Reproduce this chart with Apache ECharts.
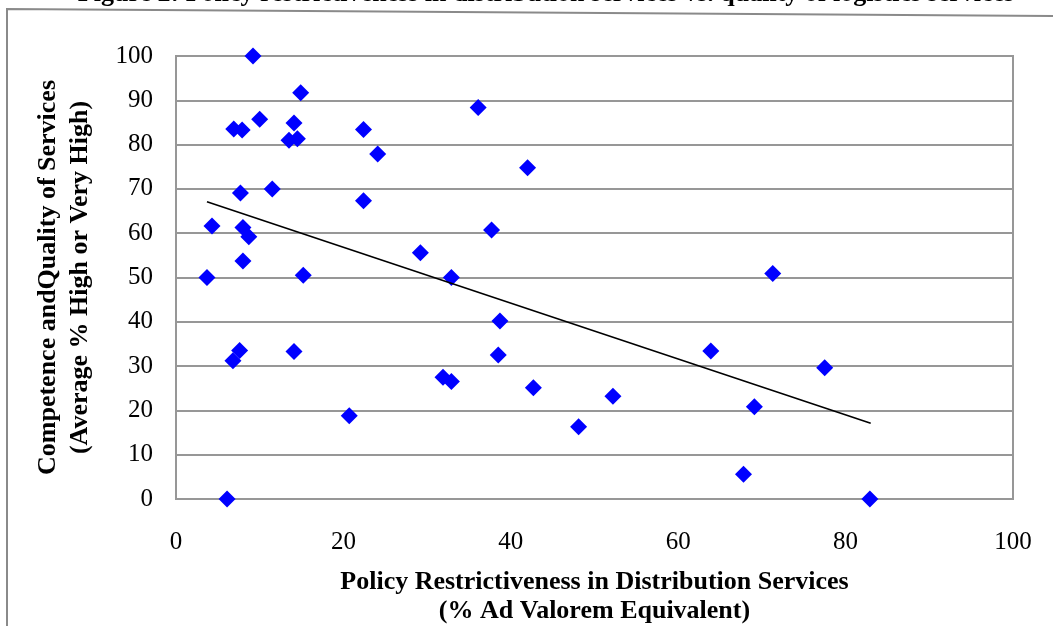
<!DOCTYPE html>
<html>
<head>
<meta charset="utf-8">
<script src="https://cdn.jsdelivr.net/npm/echarts@6/dist/echarts.min.js"></script>
<style>
  html, body { margin: 0; padding: 0; background: #ffffff; }
  #chart { width: 1053px; height: 626px; }
</style>
</head>
<body>
<div id="chart"></div>
<script>
// Policy restrictiveness (% AVE) for each country
const restrictiveness = [
  9.2, 14.9, 6.9, 7.9, 10.0, 14.1, 13.5, 14.5, 22.4, 24.1, 36.1, 42.0,
  7.7, 11.5, 22.4, 4.3, 8.0, 8.7, 37.7, 29.2, 8.0, 3.7, 15.2, 32.9,
  71.3, 38.7, 7.6, 6.8, 14.1, 38.5, 63.9, 31.9, 32.9, 42.7, 52.2, 77.5,
  69.1, 20.7, 48.1, 67.8, 6.1, 82.9
];
// Competence and quality of logistics services (average % high or very high)
const quality = [
  100, 91.7, 83.5, 83.3, 85.7, 84.9, 81.0, 81.3, 83.4, 77.9, 88.4, 74.8,
  69.1, 70.0, 67.3, 61.6, 61.3, 59.2, 60.7, 55.6, 53.7, 50.0, 50.5, 50.0,
  50.9, 40.2, 33.5, 31.2, 33.3, 32.5, 33.4, 27.5, 26.5, 25.1, 23.2, 29.6,
  20.8, 18.8, 16.3, 5.6, 0, 0
];
// Linear trend line end points
const trendX = [3.7, 83.0];
const trendY = [67.1, 17.1];

const xTicks = { min: 0, max: 100, interval: 20 };
const yTicks = { min: 0, max: 100, interval: 10 };

const titleText = 'Figure 2: Policy restrictiveness in distribution services vs. quality of logistics services';
const xName = 'Policy Restrictiveness in Distribution Services\n(% Ad Valorem Equivalent)';
const yName = 'Competence andQuality of Services\n(Average % High or Very High)';

const serif = '"Liberation Serif", "Times New Roman", serif';
const gridGray = '#979797';

const points = restrictiveness.map((x, i) => [x, quality[i]]);
const trend = trendX.map((x, i) => [x, trendY[i]]);

const chart = echarts.init(document.getElementById('chart'), null, { renderer: 'canvas' });
chart.setOption({
  animation: false,
  backgroundColor: '#ffffff',
  grid: {
    left: 176, right: 40, top: 56, bottom: 127,
    outerBoundsMode: 'none',
    containLabel: false,
    show: true, borderColor: gridGray, borderWidth: 2, backgroundColor: 'transparent'
  },
  graphic: [
    {
      type: 'polyline',
      silent: true,
      shape: { points: [[7, 626], [7, 9], [1053, 16]] },
      style: { stroke: '#8a8a8a', lineWidth: 2, fill: null }
    },
    {
      type: 'text',
      silent: true,
      x: 546, y: -6,
      style: {
        text: titleText,
        font: 'bold 26px ' + serif,
        fill: '#000000',
        align: 'center',
        verticalAlign: 'middle'
      }
    }
  ],
  xAxis: {
    type: 'value',
    min: xTicks.min, max: xTicks.max, interval: xTicks.interval,
    name: xName,
    nameLocation: 'middle',
    nameGap: 69,
    nameTextStyle: { fontFamily: serif, fontWeight: 'bold', fontSize: 26, color: '#000', lineHeight: 29 },
    axisLine: { show: true, lineStyle: { color: gridGray, width: 2 } },
    axisTick: { show: false },
    axisLabel: { margin: 31, fontFamily: serif, fontSize: 25, color: '#000' },
    splitLine: { show: false }
  },
  yAxis: {
    type: 'value',
    min: yTicks.min, max: yTicks.max, interval: yTicks.interval,
    name: yName,
    nameLocation: 'middle',
    nameGap: 80,
    nameRotate: 90,
    nameTextStyle: { fontFamily: serif, fontWeight: 'bold', fontSize: 26, color: '#000', lineHeight: 32 },
    axisLine: { show: true, lineStyle: { color: gridGray, width: 2 } },
    axisTick: { show: false },
    axisLabel: { margin: 23, fontFamily: serif, fontSize: 25, color: '#000' },
    splitLine: { show: true, lineStyle: { color: gridGray, width: 2 } }
  },
  series: [
    {
      type: 'scatter',
      data: points,
      symbol: 'diamond',
      symbolSize: 17,
      itemStyle: { color: '#0000ff', opacity: 1 },
      z: 3
    },
    {
      type: 'line',
      data: trend,
      symbol: 'none',
      lineStyle: { color: '#000000', width: 1.6 },
      z: 4
    }
  ]
});
</script>
</body>
</html>
